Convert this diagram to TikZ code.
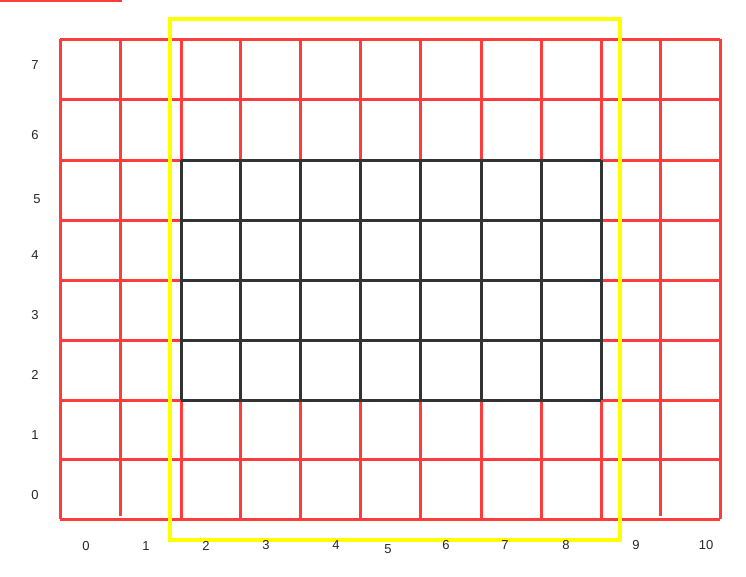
\documentclass[tikz,border=0pt]{standalone}
\usepackage{fontspec}
\setmainfont{Liberation Sans}
\definecolor{gridred}{RGB}{255,60,60}
\definecolor{griddark}{RGB}{51,51,51}
\definecolor{frameyellow}{RGB}{255,255,0}
\begin{document}
\begin{tikzpicture}[x=1pt,y=-1pt,
  redline/.style={draw=gridred,line width=3pt},
  darkline/.style={draw=griddark,line width=3pt},
  frame/.style={draw=frameyellow,line width=3.3pt},
  lab/.style={font=\fontsize{13}{15}\selectfont,text=black!85,inner sep=0pt}]
\useasboundingbox (0,0) rectangle (746,576);
% stray red line at top-left
\draw[redline] (0,0) -- (122,0);
% red grid
\foreach \y in {39,99,160,220,280,340,400,459,519}
  \draw[redline] (60,\y) -- (720,\y);
\foreach \x in {60,181,240,300,360,420,481,541,601,720}
  \draw[redline] (\x,39) -- (\x,519);
\foreach \x in {120,660}
  \draw[redline] (\x,39) -- (\x,516);
% dark grid
\foreach \y in {160,220,280,340,400}
  \draw[darkline] (181,\y) -- (601,\y);
\foreach \x in {181,240,300,360,420,481,541,601}
  \draw[darkline] (\x,160) -- (\x,400);
% yellow frame
\draw[frame] (170,19) rectangle (620,540);
% y labels
\node[lab] (y7) at (35,65) {7};
\node[lab] (y6) at (35,135) {6};
\node[lab] (y5) at (37,199) {5};
\node[lab] (y4) at (35,255) {4};
\node[lab] (y3) at (35,315) {3};
\node[lab] (y2) at (35,375) {2};
\node[lab] (y1) at (35,435) {1};
\node[lab] (y0) at (35,495) {0};
% x labels
\node[lab] (x0) at (86,546) {0};
\node[lab] (x1) at (146,546) {1};
\node[lab] (x2) at (206,546) {2};
\node[lab] (x3) at (266,545) {3};
\node[lab] (x4) at (336,545) {4};
\node[lab] (x5) at (388,549) {5};
\node[lab] (x6) at (446,545) {6};
\node[lab] (x7) at (505,545) {7};
\node[lab] (x8) at (566,545) {8};
\node[lab] (x9) at (636,545) {9};
\node[lab] (x10) at (706,545) {10};
\end{tikzpicture}
\end{document}
